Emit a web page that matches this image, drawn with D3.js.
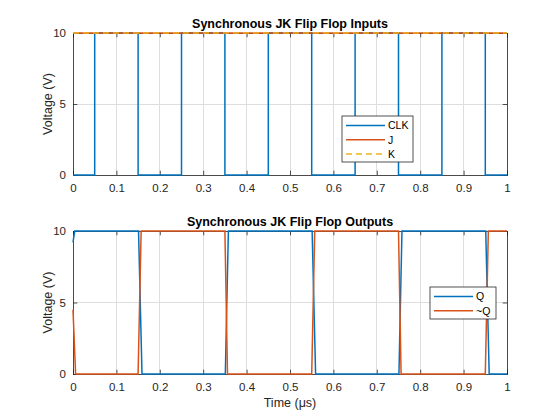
<!DOCTYPE html>
<html>
<head>
<meta charset="utf-8">
<script src="https://cdn.jsdelivr.net/npm/d3@7"></script>
<style>
  body { margin: 0; background: #fff; }
  svg { font-family: "Liberation Sans", Arial, sans-serif; }
</style>
</head>
<body>
<svg id="chart" width="560" height="420"></svg>
<script>
// clock input (square wave corners)
var clkTime = [0, 0.05, 0.05, 0.15, 0.15, 0.25, 0.25, 0.35, 0.35, 0.45, 0.45,
               0.55, 0.55, 0.65, 0.65, 0.75, 0.75, 0.85, 0.85, 0.95, 0.95, 1];
var clkVolt = [0, 0, 10, 10, 0, 0, 10, 10, 0, 0, 10,
               10, 0, 0, 10, 10, 0, 0, 10, 10, 0, 0];
var jTime = [0, 1];
var jVolt = [10, 10];
var kTime = [0, 1];
var kVolt = [10, 10];

// outputs
var qTime = [0, 0.004, 0.151, 0.159, 0.351, 0.358, 0.551, 0.559, 0.751, 0.758, 0.951, 0.959, 1];
var qVolt = [9.2, 10, 10, 0, 0, 10, 10, 0, 0, 10, 10, 0, 0];
var nqTime = [0, 0.006, 0.150, 0.157, 0.350, 0.356, 0.550, 0.557, 0.750, 0.756, 0.950, 0.957, 1];
var nqVolt = [4.5, 0, 0, 10, 10, 0, 0, 10, 10, 0, 0, 10, 10];

var xTicks = [0, 0.1, 0.2, 0.3, 0.4, 0.5, 0.6, 0.7, 0.8, 0.9, 1];
var yTicks = [0, 5, 10];

var BLUE = '#0072BD', ORANGE = '#D95319', YELLOW = '#EDB120', AXIS = '#262626';

var svg = d3.select('#chart');
var left = 73, right = 507;

function zip(t, v) { return t.map(function(d, i) { return [d, v[i]]; }); }

function drawPanel(opts) {
  var x = d3.scaleLinear().domain([0, 1]).range([left, right]);
  var y = d3.scaleLinear().domain([0, 10]).range([opts.bottom, opts.top]);
  var g = svg.append('g');

  // grid
  g.selectAll('.gx').data(xTicks).enter().append('line')
    .attr('x1', x).attr('x2', x).attr('y1', opts.top).attr('y2', opts.bottom)
    .style('stroke', '#dedede').style('shape-rendering', 'crispEdges');
  g.selectAll('.gy').data(yTicks).enter().append('line')
    .attr('x1', left).attr('x2', right).attr('y1', y).attr('y2', y)
    .style('stroke', '#dedede').style('shape-rendering', 'crispEdges');

  // axes with inward ticks, box on
  var tl = 4.3;
  var ax = g.append('g').attr('transform', 'translate(0,' + opts.bottom + ')')
    .call(d3.axisBottom(x).tickValues(xTicks).tickSize(-tl).tickPadding(9)
      .tickFormat(function(d) { return d === 0 || d === 1 ? d3.format('d')(d) : d3.format('.1f')(d); }));
  var axt = g.append('g').attr('transform', 'translate(0,' + opts.top + ')')
    .call(d3.axisTop(x).tickValues(xTicks).tickSize(-tl).tickFormat(''));
  var ay = g.append('g').attr('transform', 'translate(' + left + ',0)')
    .call(d3.axisLeft(y).tickValues(yTicks).tickSize(-tl).tickPadding(7));
  var ayr = g.append('g').attr('transform', 'translate(' + right + ',0)')
    .call(d3.axisRight(y).tickValues(yTicks).tickSize(-tl).tickFormat(''));
  [ax, axt, ay, ayr].forEach(function(a) {
    a.select('.domain').attr('stroke', AXIS).attr('stroke-width', 0.8);
    a.selectAll('.tick line').attr('stroke', AXIS).attr('stroke-width', 0.8);
    a.selectAll('text').attr('fill', AXIS).style('font-size', '11.5px')
      .style('font-family', '"Liberation Sans", Arial, sans-serif');
  });

  // series
  var line = d3.line().x(function(d) { return x(d[0]); }).y(function(d) { return y(d[1]); });
  opts.series.forEach(function(s) {
    g.append('path').datum(zip(s.t, s.v))
      .attr('d', line).attr('fill', 'none')
      .attr('stroke', s.color).attr('stroke-width', 1.5)
      .attr('stroke-dasharray', s.dash || null);
  });

  // title and y label
  g.append('text').attr('x', (left + right) / 2).attr('y', opts.top - 5.5)
    .attr('text-anchor', 'middle').style('font-size', '12.5px').style('font-weight', 'bold')
    .attr('fill', '#000').text(opts.title);
  g.append('text')
    .attr('transform', 'translate(52,' + (opts.top + opts.bottom) / 2 + ') rotate(-90)')
    .attr('text-anchor', 'middle').style('font-size', '12.5px').attr('fill', AXIS)
    .text('Voltage (V)');

  // legend
  var L = opts.legend;
  var lg = g.append('g').attr('transform', 'translate(' + L.x + ',' + L.y + ')');
  lg.append('rect').attr('width', L.w).attr('height', L.h)
    .attr('fill', '#fff').attr('stroke', AXIS).attr('stroke-width', 0.8);
  opts.series.forEach(function(s, i) {
    var yy = 9.5 + i * 14.3;
    lg.append('line').attr('x1', 4).attr('x2', 43).attr('y1', yy).attr('y2', yy)
      .attr('stroke', s.color).attr('stroke-width', 1.5)
      .attr('stroke-dasharray', s.dash || null);
    lg.append('text').attr('x', 46).attr('y', yy + 3.8)
      .style('font-size', '10.5px').attr('fill', '#000').text(s.name);
  });
  return g;
}

drawPanel({
  top: 33, bottom: 175,
  title: 'Synchronous JK Flip Flop Inputs',
  series: [
    { name: 'CLK', t: clkTime, v: clkVolt, color: BLUE },
    { name: 'J', t: jTime, v: jVolt, color: ORANGE },
    { name: 'K', t: kTime, v: kVolt, color: YELLOW, dash: '6,4' }
  ],
  legend: { x: 342, y: 116, w: 71, h: 46 }
});

drawPanel({
  top: 231, bottom: 374,
  title: 'Synchronous JK Flip Flop Outputs',
  series: [
    { name: 'Q', t: qTime, v: qVolt, color: BLUE },
    { name: '~Q', t: nqTime, v: nqVolt, color: ORANGE }
  ],
  legend: { x: 430, y: 287, w: 66, h: 32 }
});

svg.append('text').attr('x', (left + right) / 2).attr('y', 407)
  .attr('text-anchor', 'middle').style('font-size', '12.5px').attr('fill', AXIS)
  .text('Time (μs)');
</script>
</body>
</html>
